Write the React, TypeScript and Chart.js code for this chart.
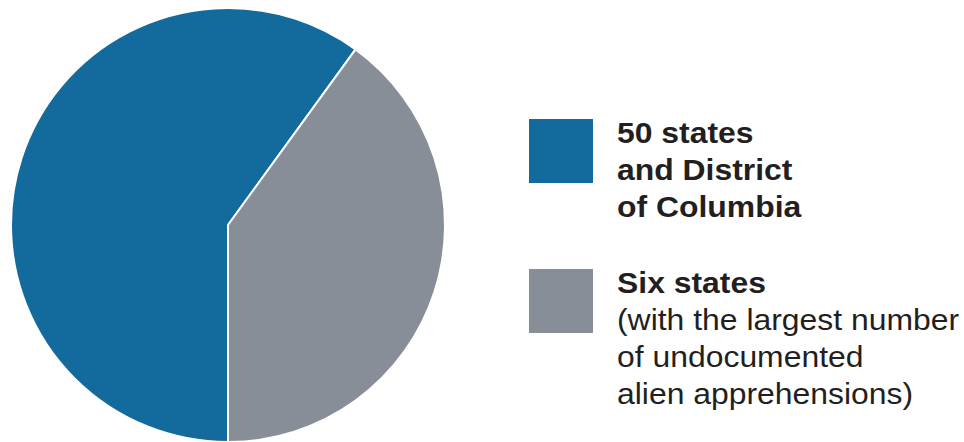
import React, { useEffect, useRef } from "react";
import { Chart, registerables } from "chart.js";

Chart.register(...registerables);

const categories = [
  "50 states and District of Columbia",
  "Six states (with the largest number of undocumented alien apprehensions)",
];
const shares = [60, 40];
const colors = ["#136A9C", "#878E98"];

const legendTitles = ["50 states\nand District\nof Columbia", "Six states"];
const legendNotes = ["", "(with the largest number\nof undocumented\nalien apprehensions)"];

export default function App() {
  const ref = useRef<HTMLCanvasElement | null>(null);

  useEffect(() => {
    document.body.style.margin = "0";
    document.body.style.overflow = "hidden";
    const chart = new Chart(ref.current as HTMLCanvasElement, {
      type: "pie",
      data: {
        labels: categories,
        datasets: [
          {
            data: shares,
            backgroundColor: colors,
            borderColor: "#ffffff",
            borderWidth: 2,
          },
        ],
      },
      options: {
        animation: false,
        responsive: false,
        rotation: 180,
        layout: { padding: { left: 10, top: 7, right: 10, bottom: 13 } },
        plugins: {
          legend: { display: false },
          tooltip: { enabled: false },
        },
      },
    });
    return () => chart.destroy();
  }, []);

  const textStyle: React.CSSProperties = {
    position: "absolute",
    left: 617,
    fontFamily: "'Liberation Sans', Arial, sans-serif",
    fontSize: 29,
    lineHeight: "37px",
    color: "#231F20",
    whiteSpace: "pre",
    transform: "scaleX(1.1)",
    transformOrigin: "0 0",
  };

  return (
    <div style={{ position: "relative", width: 964, height: 442, overflow: "hidden", background: "#fff" }}>
      <canvas ref={ref} width={456} height={456} style={{ position: "absolute", left: 0, top: 0, width: 456, height: 456 }} />
      <div style={{ position: "absolute", left: 529, top: 119, width: 64, height: 64, background: colors[0] }} />
      <div style={{ position: "absolute", left: 529, top: 269, width: 64, height: 64, background: colors[1] }} />
      <div style={{ ...textStyle, top: 114.5, fontWeight: "bold" }}>{legendTitles[0]}</div>
      <div style={{ ...textStyle, top: 264.5 }}>
        <span style={{ fontWeight: "bold" }}>{legendTitles[1]}</span>
        {"\n" + legendNotes[1]}
      </div>
    </div>
  );
}
